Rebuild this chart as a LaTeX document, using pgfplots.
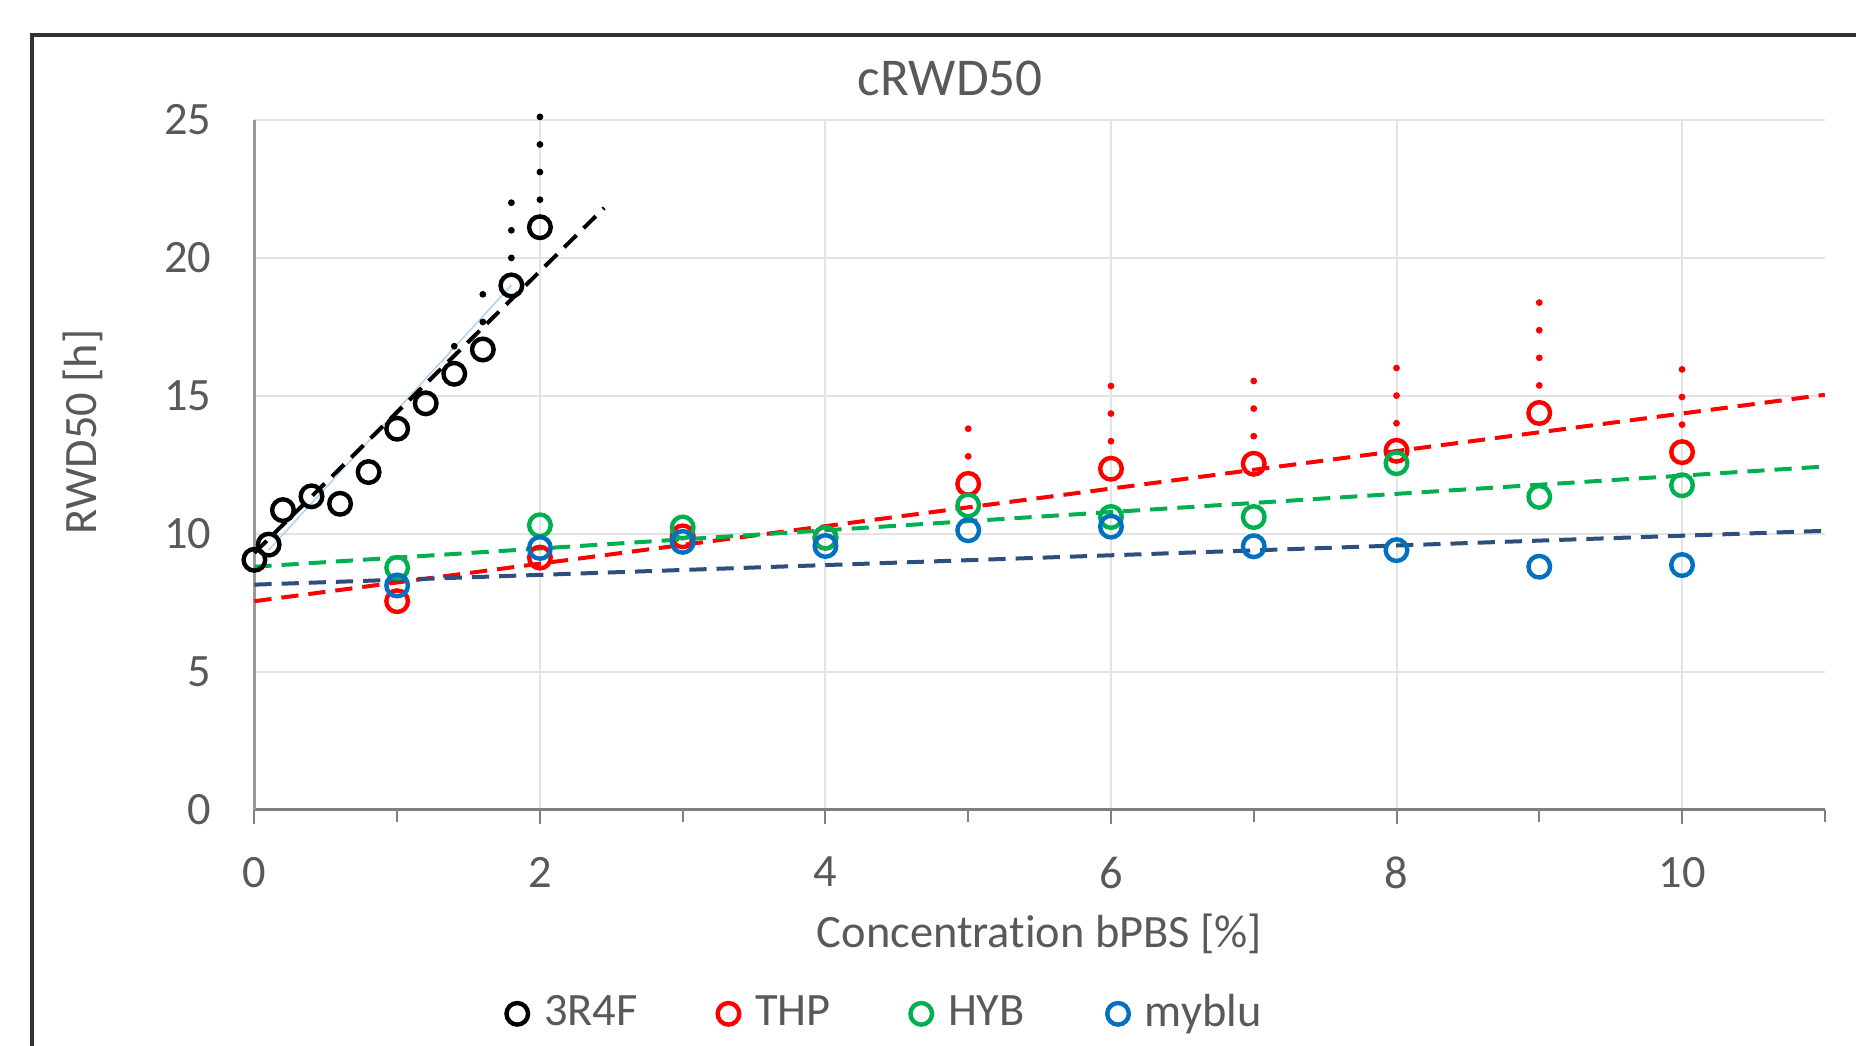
\documentclass[border=0pt]{standalone}
\usepackage{pgfplots}
\usepackage{pgfplotstable}
\pgfplotsset{compat=1.18}
\usepackage{fontspec}
\setmainfont{Carlito}[Ligatures=NoCommon]
\definecolor{txt}{HTML}{595959}
\definecolor{cred}{HTML}{FF0000}
\definecolor{cgreen}{HTML}{00B050}
\definecolor{cblue}{HTML}{0070C0}
\definecolor{cnavy}{HTML}{2E4E7E}
\definecolor{gridc}{HTML}{E3E3E3}
\definecolor{axisc}{HTML}{7F7F7F}
\definecolor{lblue}{HTML}{B4D3EE}
\pgfplotstableread{
x y
0 9.05
0.1 9.6
0.2 10.85
0.4 11.35
0.6 11.08
0.8 12.23
1.0 13.8
1.2 14.72
1.4 15.79
1.6 16.67
1.8 18.99
2.0 21.1
}\tabblack
\pgfplotstableread{
x y e
1.4 15.79 1.1
1.6 16.67 2.33
1.8 18.99 3.05
2.0 21.1 4.1
}\errblack
\pgfplotstableread{
x y
1 7.55
2 9.13
3 9.9
4 9.85
5 11.8
6 12.35
7 12.53
8 13.0
9 14.37
10 12.95
}\tabred
\pgfplotstableread{
x y e
5 11.8 2.17
6 12.35 3.31
7 12.53 3.19
8 13.0 3.33
9 14.37 4.3
10 12.95 3.07
}\errred
\pgfplotstableread{
x y
1 8.76
2 10.3
3 10.22
4 9.85
5 11.02
6 10.6
7 10.6
8 12.55
9 11.33
10 11.75
}\tabgreen
\pgfplotstableread{
x y
1 8.12
2 9.48
3 9.7
4 9.55
5 10.12
6 10.25
7 9.54
8 9.4
9 8.8
10 8.86
}\tabblue
\newcommand{\lfont}{\fontsize{11.6}{13}\selectfont}
\begin{document}
\begin{tikzpicture}
\path[use as bounding box] (0,0) rectangle (464pt,261.5pt);
\draw[line width=0.8pt, black!80] (8pt,-30pt) rectangle (500pt,252.75pt);
\node[text=txt, font=\fontsize{13.3}{16}\selectfont] at (237.6pt,242pt) {cRWD50};
\begin{axis}[
  at={(63.6pt,59.1pt)}, anchor=south west,
  scale only axis, width=392.6pt, height=172.5pt,
  xmin=0, xmax=11, ymin=0, ymax=25,
  axis x line*=bottom, axis y line*=left,
  x axis line style={-, color=axisc, line width=0.8pt},
  y axis line style={-, color=axisc!80, line width=0.6pt},
  xtick={0,2,...,10}, minor xtick={1,3,...,11},
  ytick={0,5,...,25},
  tick align=outside,
  major tick length=3.5pt, minor tick length=3pt,
  xtick style={color=axisc, line width=0.5pt},
  ytick style={draw=none},
  xmajorgrids, ymajorgrids,
  major grid style={color=gridc, line width=0.5pt},
  tick label style={text=txt, font=\lfont},
  /pgf/number format/assume math mode=true,
  xticklabel shift=4.8pt, yticklabel shift=3.7pt,
  xlabel={Concentration bPBS [\%]},
  xlabel style={at={(axis description cs:0.5,-0.18)}, anchor=center, text=txt, font=\lfont},
  ylabel={RWD50 [h]},
  ylabel style={at={(axis description cs:-0.1093,0.547)}, anchor=center, text=txt, font=\lfont},
  legend columns=4,
  legend style={at={(axis description cs:0.160,-0.296)}, anchor=west, draw=none, fill=none, inner sep=0pt, font=\lfont, text=txt,
    /tikz/every odd column/.append style={column sep=2pt},
    /tikz/every even column/.append style={column sep=0pt}},
  legend image code/.code={\draw[#1] plot coordinates {(0pt,0pt)};},
  clip=false,
]
% trendlines
\addplot[lblue, line width=0.4pt, forget plot] coordinates {(0.1,9.4) (1.8,19.0)};
\addplot[black, line width=1pt, dash pattern=on 4.3pt off 2.5pt, forget plot] coordinates {(0,9.3) (2.45,21.8)};
\addplot[cred, line width=1pt, dash pattern=on 4.3pt off 2.5pt, forget plot] coordinates {(0,7.55) (11,15.03)};
\addplot[cgreen, line width=1pt, dash pattern=on 4.3pt off 2.5pt, forget plot] coordinates {(0,8.8) (11,12.43)};
\addplot[cnavy, line width=1pt, dash pattern=on 4.3pt off 2.5pt, forget plot] coordinates {(0,8.15) (11,10.1)};
% error bars (upper, dotted)
\addplot[draw=none, mark=none, forget plot,
  error bars/.cd, y dir=plus, y explicit, error mark=none,
  error bar style={draw=black, line width=1.7pt, line cap=round, dash pattern=on 0pt off 6.9pt, dash phase=0.01pt}]
  table[x=x, y=y, y error=e] {\errblack};
\addplot[draw=none, mark=none, forget plot,
  error bars/.cd, y dir=plus, y explicit, error mark=none,
  error bar style={draw=cred, line width=1.7pt, line cap=round, dash pattern=on 0pt off 6.9pt, dash phase=0.01pt}]
  table[x=x, y=y, y error=e] {\errred};
% data
\addplot[black, only marks, mark=o, mark size=2.7pt, mark options={line width=1.1pt, solid}]
  table[x=x, y=y] {\tabblack};
\addlegendentry{\makebox[41.4pt][l]{3R4F}}
\addplot[cred, only marks, mark=o, mark size=2.7pt, mark options={line width=1.1pt, solid}]
  table[x=x, y=y] {\tabred};
\addlegendentry{\makebox[36.8pt][l]{THP}}
\addplot[cgreen, only marks, mark=o, mark size=2.7pt, mark options={line width=1.1pt, solid}]
  table[x=x, y=y] {\tabgreen};
\addlegendentry{\makebox[37.8pt][l]{HYB}}
\addplot[cblue, only marks, mark=o, mark size=2.7pt, mark options={line width=1.1pt, solid}]
  table[x=x, y=y] {\tabblue};
\addlegendentry{myblu}
\end{axis}
\end{tikzpicture}
\end{document}
